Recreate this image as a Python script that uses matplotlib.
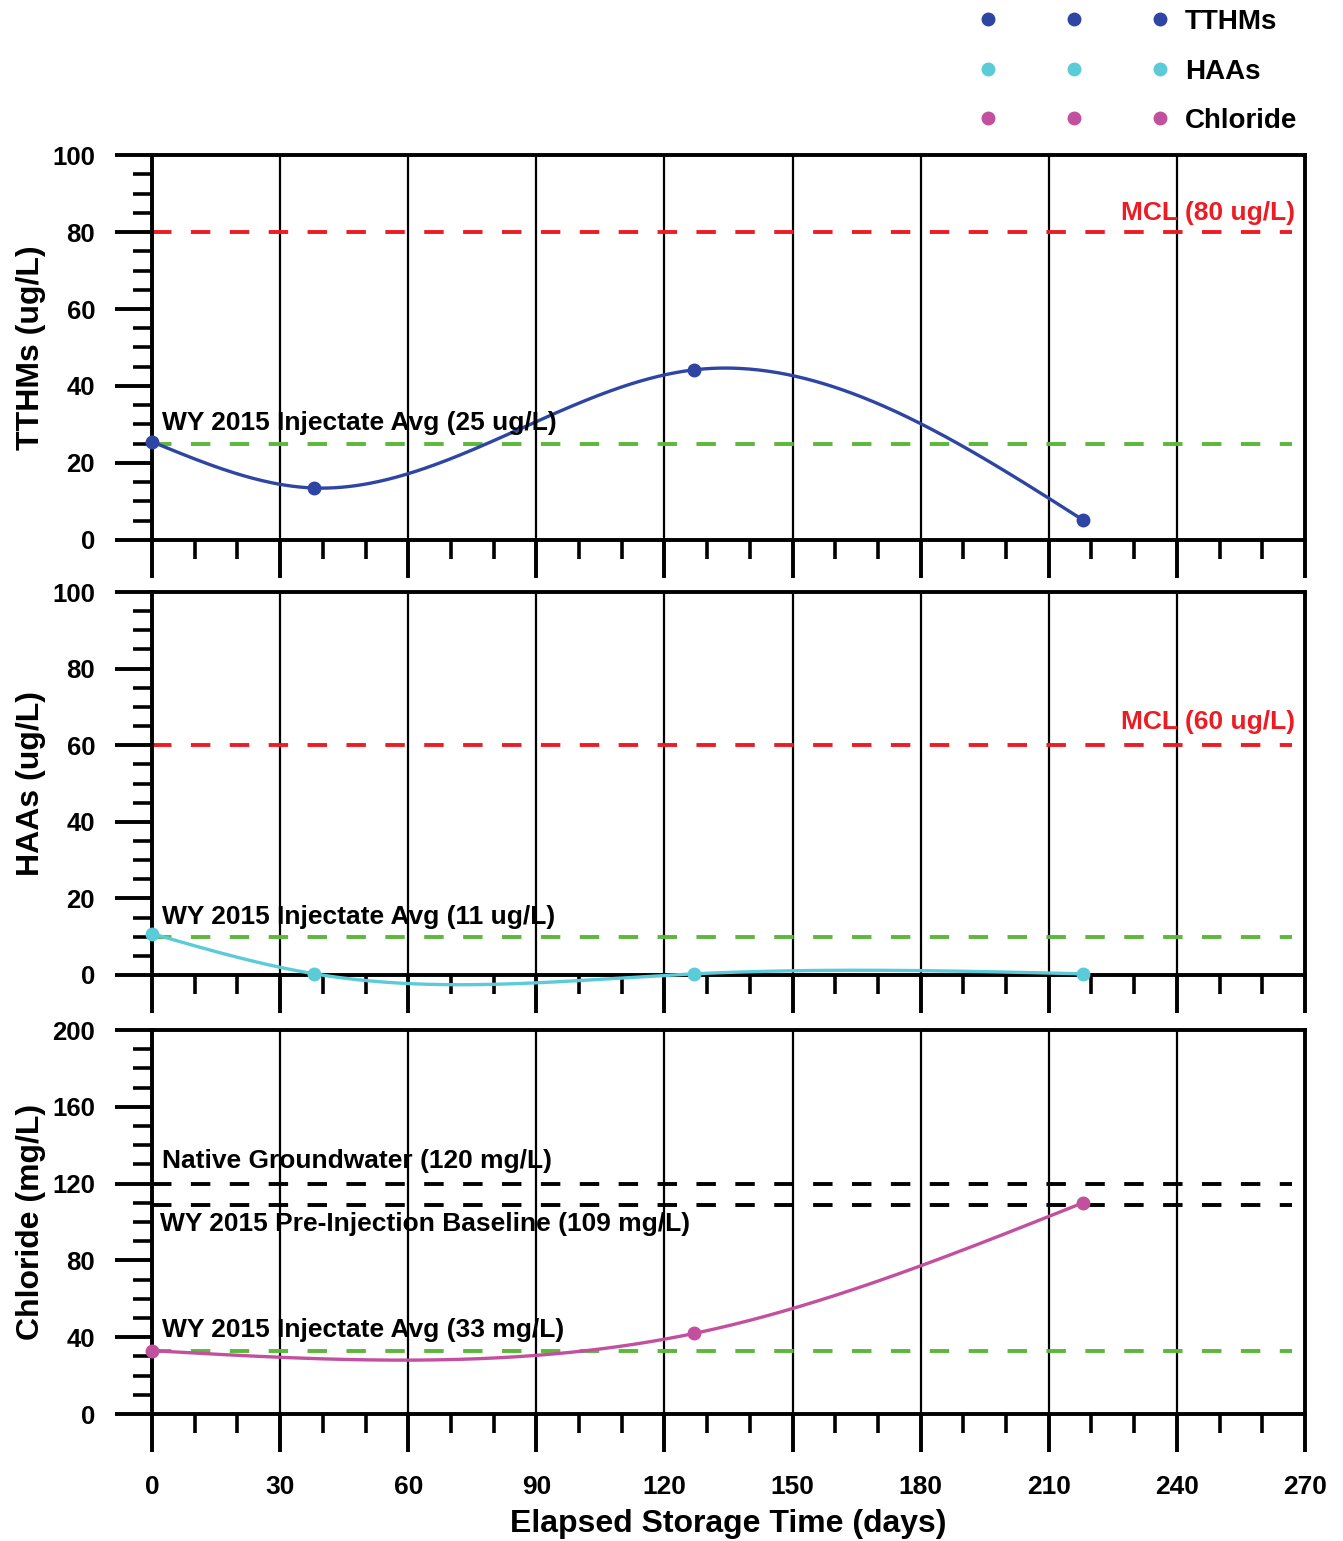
import numpy as np
import matplotlib
matplotlib.use("Agg")
import matplotlib.pyplot as plt
from matplotlib.lines import Line2D
from matplotlib.ticker import MultipleLocator

plt.rcParams.update({
    "font.family": ["Liberation Sans", "DejaVu Sans"],
    "font.weight": "bold",
})

# ---- data ----
days_tthm = [0, 38, 127, 218]
tthm = [25.5, 13.5, 44.2, 5.2]
days_haa = [0, 38, 127, 218]
haa = [10.8, 0.3, 0.3, 0.3]
days_cl = [0, 127, 218]
chloride = [33.0, 42.0, 110.0]

tthm_mcl, tthm_inj = 80, 25
haa_mcl, haa_inj = 60, 10
cl_native, cl_base, cl_inj = 120, 109, 33

C_TTHM = "#2e45a3"
C_HAA = "#5ccbd9"
C_CL = "#c2509f"
C_RED = "#ec1c24"
C_GREEN = "#5cb83a"


def natural_spline(x, y, n=400):
    x = np.asarray(x, float); y = np.asarray(y, float)
    m = len(x); h = np.diff(x)
    A = np.zeros((m, m)); r = np.zeros(m)
    A[0, 0] = A[-1, -1] = 1
    for i in range(1, m - 1):
        A[i, i - 1] = h[i - 1]; A[i, i] = 2 * (h[i - 1] + h[i]); A[i, i + 1] = h[i]
        r[i] = 3 * ((y[i + 1] - y[i]) / h[i] - (y[i] - y[i - 1]) / h[i - 1])
    c = np.linalg.solve(A, r)
    xs = np.linspace(x[0], x[-1], n)
    idx = np.clip(np.searchsorted(x, xs) - 1, 0, m - 2)
    dx = xs - x[idx]
    b = (y[1:] - y[:-1]) / h - h * (2 * c[:-1] + c[1:]) / 3
    d = (c[1:] - c[:-1]) / (3 * h)
    return xs, y[idx] + b[idx] * dx + c[idx] * dx ** 2 + d[idx] * dx ** 3


fig = plt.figure(figsize=(13.43, 15.41), dpi=100)
L, W = 0.1132, 0.8585
axs = [fig.add_axes([L, 0.6496, W, 0.2498]),
       fig.add_axes([L, 0.3673, W, 0.2485]),
       fig.add_axes([L, 0.0824, W, 0.2492])]


def style(ax, ymax, ymaj, ymin, label, show_x):
    ax.set_xlim(0, 270)
    ax.set_ylim(0, ymax)
    ax.xaxis.set_major_locator(MultipleLocator(30))
    ax.xaxis.set_minor_locator(MultipleLocator(10))
    ax.yaxis.set_major_locator(MultipleLocator(ymaj))
    ax.yaxis.set_minor_locator(MultipleLocator(ymin))
    ax.tick_params(which="major", direction="out", length=27, width=2.8, labelsize=18.5, pad=14)
    ax.tick_params(which="minor", direction="out", length=14, width=2.6)
    ax.tick_params(axis="x", pad=17, labelsize=19, labelbottom=show_x)
    for s in ax.spines.values():
        s.set_linewidth(2.8)
    for v in range(30, 270, 30):
        ax.axvline(v, color="black", lw=1.6, zorder=1)
    ax.set_ylabel(label, fontsize=23, fontweight="bold")
    ax.yaxis.set_label_coords(-0.0917, 0.5)


def hline(ax, y, color):
    ax.plot([0, 267], [y, y], color=color, lw=2.8, dashes=(5, 5), zorder=2)


# TTHMs
ax = axs[0]
style(ax, 100, 20, 5, "TTHMs (ug/L)", False)
hline(ax, tthm_mcl, C_RED)
hline(ax, tthm_inj, C_GREEN)
xs, ys = natural_spline(days_tthm, tthm)
ax.plot(xs, ys, color=C_TTHM, lw=2.4, zorder=3)
ax.plot(days_tthm, tthm, "o", color=C_TTHM, ms=9, zorder=4, clip_on=False)
ax.text(267.7, 84.9, "MCL (80 ug/L)", color=C_RED, fontsize=19, ha="right", va="center")
ax.text(2.3, 30.4, "WY 2015 Injectate Avg (25 ug/L)", fontsize=19, ha="left", va="center")

# HAAs
ax = axs[1]
style(ax, 100, 20, 5, "HAAs (ug/L)", False)
hline(ax, haa_mcl, C_RED)
hline(ax, haa_inj, C_GREEN)
xs, ys = natural_spline(days_haa, haa)
ax.plot(xs, ys, color=C_HAA, lw=2.4, zorder=3, clip_on=False)
ax.plot(days_haa, haa, "o", color=C_HAA, ms=9, zorder=4, clip_on=False)
ax.text(267.7, 66.1, "MCL (60 ug/L)", color=C_RED, fontsize=19, ha="right", va="center")
ax.text(2.3, 15.1, "WY 2015 Injectate Avg (11 ug/L)", fontsize=19, ha="left", va="center")

# Chloride
ax = axs[2]
style(ax, 200, 40, 10, "Chloride (mg/L)", True)
hline(ax, cl_native, "black")
hline(ax, cl_base, "black")
hline(ax, cl_inj, C_GREEN)
xs, ys = natural_spline(days_cl, chloride)
ax.plot(xs, ys, color=C_CL, lw=2.4, zorder=3)
ax.plot(days_cl, chloride, "o", color=C_CL, ms=9, zorder=4, clip_on=False)
ax.text(2.3, 131.8, "Native Groundwater (120 mg/L)", fontsize=19, ha="left", va="center")
ax.text(1.9, 99.0, "WY 2015 Pre-Injection Baseline (109 mg/L)", fontsize=19, ha="left", va="center")
ax.text(2.3, 43.75, "WY 2015 Injectate Avg (33 mg/L)", fontsize=19, ha="left", va="center")
ax.set_xlabel("Elapsed Storage Time (days)", fontsize=23, fontweight="bold", labelpad=7)

# legend
handles = []
for _ in range(3):
    for c in (C_TTHM, C_HAA, C_CL):
        handles.append(Line2D([], [], ls="none", marker="o", color=c, ms=9))
labels = ["", "", "", "", "", "", "TTHMs", "HAAs", "Chloride"]
fig.legend(handles, labels, ncol=3, loc="upper left", bbox_to_anchor=(0.7212, 1.0014),
           frameon=False, fontsize=20, handlelength=0.6, handletextpad=0.6,
           columnspacing=1.89, labelspacing=0.85, borderaxespad=0)

fig.savefig("out.png", dpi=100)
